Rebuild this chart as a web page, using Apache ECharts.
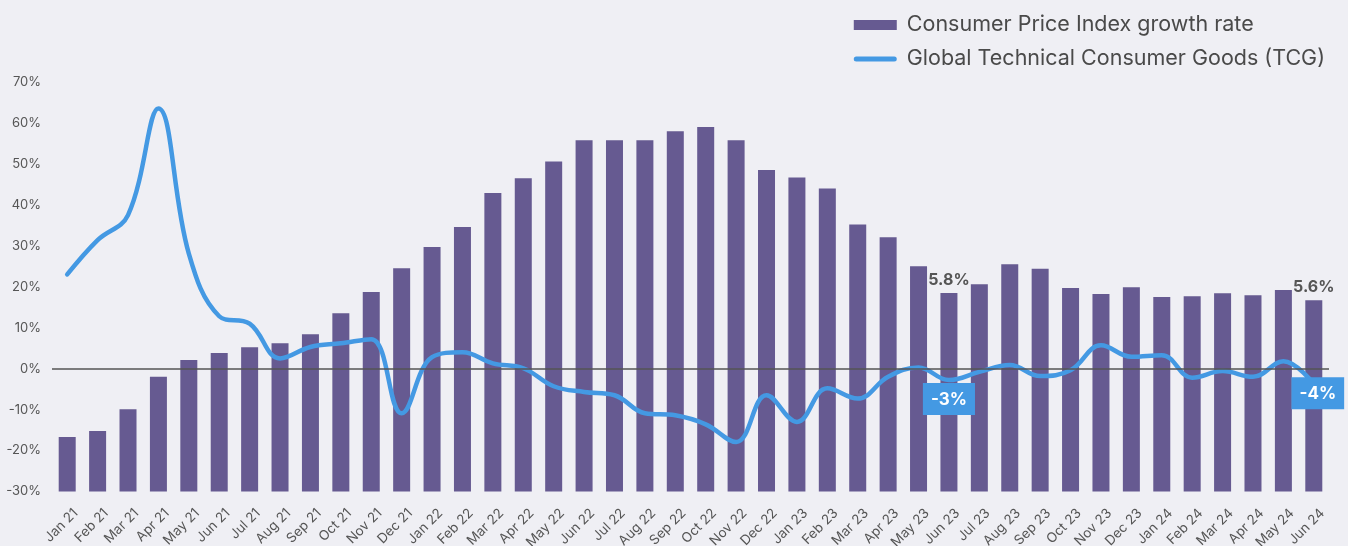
<!DOCTYPE html>
<html>
<head>
<meta charset="utf-8">
<title>CPI growth vs TCG</title>
<script src="https://cdn.jsdelivr.net/npm/echarts@6/dist/echarts.min.js"></script>
<style>
  html, body { margin: 0; padding: 0; background: #efeff4; }
  #myChart { width: 1348px; height: 546px; }
</style>
</head>
<body>
<div id="myChart"></div>
<script>
// Month labels on the x axis
var months = [
  'Jan 21', 'Feb 21', 'Mar 21', 'Apr 21', 'May 21', 'Jun 21', 'Jul 21', 'Aug 21', 'Sep 21', 'Oct 21', 'Nov 21', 'Dec 21',
  'Jan 22', 'Feb 22', 'Mar 22', 'Apr 22', 'May 22', 'Jun 22', 'Jul 22', 'Aug 22', 'Sep 22', 'Oct 22', 'Nov 22', 'Dec 22',
  'Jan 23', 'Feb 23', 'Mar 23', 'Apr 23', 'May 23', 'Jun 23', 'Jul 23', 'Aug 23', 'Sep 23', 'Oct 23', 'Nov 23', 'Dec 23',
  'Jan 24', 'Feb 24', 'Mar 24', 'Apr 24', 'May 24', 'Jun 24'
];

// Consumer Price Index growth rate (%)
var cpiGrowth = [
  -16.7, -15.2, -9.9, -2.0, 2.1, 3.8, 5.2, 6.2, 8.4, 13.5, 18.7, 24.5,
  29.7, 34.6, 42.9, 46.5, 50.6, 55.8, 55.8, 55.8, 58.0, 59.0, 55.8, 48.5,
  46.7, 44.0, 35.2, 32.1, 25.0, 18.5, 20.6, 25.5, 24.4, 19.7, 18.2, 19.9,
  17.5, 17.7, 18.4, 17.9, 19.2, 16.7
];

// Global Technical Consumer Goods (TCG) growth (%)
var tcgGrowth = [
  23.0, 31.4, 37.5, 63.5, 28.1, 12.8, 11.0, 2.5, 5.3, 6.2, 7.2, -10.9,
  2.8, 4.0, 1.3, 0.1, -4.3, -5.7, -6.5, -10.9, -11.4, -13.6, -17.9, -6.5,
  -13.0, -4.8, -7.3, -2.0, 0.3, -2.8, -0.8, 0.9, -1.8, -0.4, 5.7, 2.9,
  3.3, -2.2, -0.6, -2.0, 1.8, -3.8
];

// Callout texts
var cpiNotes = { 'Jun 23': '5.8%', 'Jun 24': '5.6%' };
var tcgNotes = { 'Jun 23': '-3%', 'Jun 24': '-4%' };

// Y axis range
var yMin = -30;
var yMax = 70;
var yStep = 10;

var FONT = 'Inter, "Noto Sans", sans-serif';
var BAR_COLOR = '#665a91';
var LINE_COLOR = '#4499e3';
var CPI_NAME = 'Consumer Price Index growth rate';
var TCG_NAME = 'Global Technical Consumer Goods (TCG)';

// Bars grow up from the bottom of the axis, so they sit on a hidden 0-based axis
function barData() {
  return cpiGrowth.map(function (v, i) {
    var item = { value: v - yMin };
    var note = cpiNotes[months[i]];
    if (note) {
      item.label = {
        show: true,
        position: 'top',
        distance: 5,
        formatter: note,
        fontFamily: FONT,
        fontSize: 16,
        fontWeight: 'bold',
        color: '#555'
      };
    }
    return item;
  });
}

// Blue boxes under the line
function lineCallouts() {
  var points = [];
  months.forEach(function (m, i) {
    var note = tcgNotes[m];
    if (!note) return;
    var last = i === months.length - 1;
    points.push({
      coord: [m, tcgGrowth[i]],
      label: {
        show: true,
        position: 'bottom',
        distance: last ? -7 : 3,
        offset: last ? [4, 0] : [0, 0],
        formatter: note,
        fontFamily: FONT,
        fontSize: 17,
        fontWeight: 'bold',
        color: '#fff',
        backgroundColor: LINE_COLOR,
        padding: [8, 8, 7, 8]
      }
    });
  });
  return points;
}

var myChart = echarts.init(document.getElementById('myChart'));

var option = {
  backgroundColor: '#efeff4',
  animation: false,
  textStyle: { fontFamily: FONT },
  legend: {
    orient: 'vertical',
    right: 18,
    top: 9,
    itemWidth: 43,
    itemHeight: 10,
    itemGap: 12,
    symbolKeepAspect: true,
    textStyle: { fontFamily: FONT, fontSize: 21.5, color: '#4a4a4a', padding: [0, 0, 0, 5] },
    data: [
      { name: CPI_NAME, icon: 'rect' },
      {
        name: TCG_NAME,
        icon: 'path://M2.5,0 L40.5,0 A2.5,2.5 0 0 1 40.5,5 L2.5,5 A2.5,2.5 0 0 1 2.5,0 Z',
        itemStyle: { color: LINE_COLOR }
      }
    ]
  },
  grid: {
    left: 52,
    right: 19,
    top: 82,
    bottom: 54.5,
    containLabel: false,
    outerBoundsMode: 'none'
  },
  xAxis: {
    type: 'category',
    data: months,
    axisLine: { show: false },
    axisTick: { show: false },
    axisLabel: {
      interval: 0,
      rotate: 45,
      margin: 11,
      verticalAlign: 'top',
      padding: [5, 0, 0, 0],
      fontFamily: FONT,
      fontSize: 13.5,
      color: '#555'
    }
  },
  yAxis: [
    {
      type: 'value',
      min: yMin,
      max: yMax,
      interval: yStep,
      axisLine: { show: false },
      axisTick: { show: false },
      splitLine: { show: false },
      axisLabel: {
        formatter: '{value}%',
        margin: 11,
        fontFamily: FONT,
        fontSize: 13,
        color: '#555'
      }
    },
    {
      type: 'value',
      min: 0,
      max: yMax - yMin,
      show: false
    }
  ],
  series: [
    {
      name: CPI_NAME,
      type: 'bar',
      yAxisIndex: 1,
      barWidth: 17,
      itemStyle: { color: BAR_COLOR },
      data: barData()
    },
    {
      name: TCG_NAME,
      type: 'line',
      yAxisIndex: 0,
      smooth: 0.4,
      symbol: 'none',
      lineStyle: { color: LINE_COLOR, width: 4.5, cap: 'round' },
      itemStyle: { color: LINE_COLOR },
      data: tcgGrowth,
      markLine: {
        silent: true,
        symbol: 'none',
        label: { show: false },
        lineStyle: { color: '#555', width: 1.5, type: 'solid' },
        data: [{ yAxis: 0 }]
      },
      markPoint: {
        silent: true,
        symbol: 'rect',
        symbolSize: 0,
        data: lineCallouts()
      },
      z: 3
    }
  ]
};

myChart.setOption(option);
</script>
</body>
</html>
